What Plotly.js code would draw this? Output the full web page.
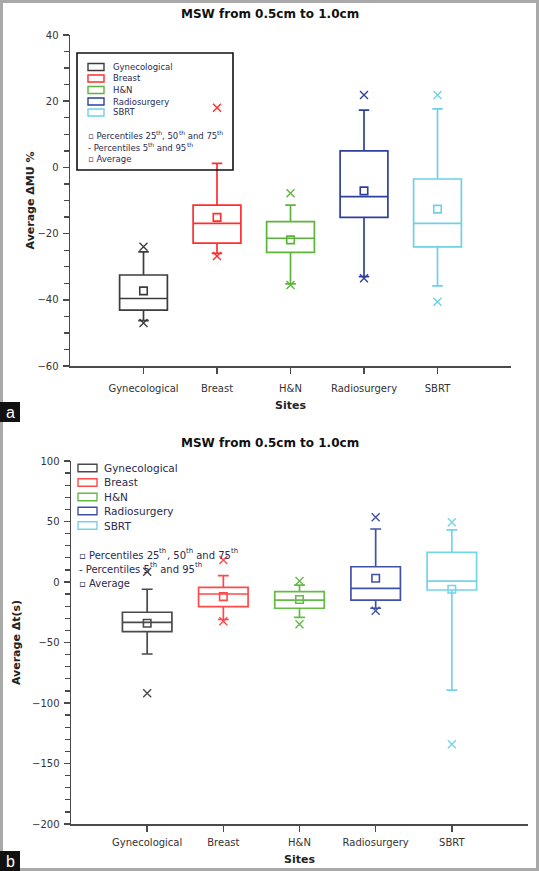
<!DOCTYPE html>
<html><head><meta charset="utf-8">
<script src="https://cdn.plot.ly/plotly-3.0.1.min.js"></script>
<style>html,body{margin:0;padding:0;background:#fff;} #chart{width:539px;height:871px;}</style>
</head><body><div id="chart"></div>
<script>
// ---------- data ----------
const sites = ['Gynecological','Breast','H&N','Radiosurgery','SBRT'];

// Panel a: Average ΔMU %
const muP5     = [-46.3, -26.0, -35.2, -33.0, -35.8];
const muQ1     = [-43.1, -22.9, -25.7, -15.1, -24.0];
const muMedian = [-39.6, -16.9, -21.4,  -8.8, -16.9];
const muQ3     = [-32.5, -11.4, -16.4,   5.0,  -3.5];
const muP95    = [-25.5,   1.2, -11.4,  17.3,  17.7];
const muMean   = [-37.3, -15.1, -21.9,  -7.1, -12.6];
const muMin    = [-47.0, -26.8, -35.5, -33.5, -40.6];
const muMax    = [-24.0,  18.0,  -7.8,  21.9,  21.9];

// Panel b: Average Δt(s)
const tP5      = [-59.5, -31.0, -29.2, -21.7, -89.3];
const tQ1      = [-41.0, -20.4, -21.7, -14.9,  -6.6];
const tMedian  = [-33.3,  -9.9, -14.9,  -5.2,   0.8];
const tQ3      = [-25.0,  -4.4,  -8.0,  12.6,  24.5];
const tP95     = [ -6.0,   5.2,  -2.5,  43.8,  43.0];
const tMean    = [-34.1, -12.1, -14.5,   3.1,  -6.0];
const tMin     = [-92.0, -32.5, -35.0, -23.7, -134.0];
const tMax     = [  8.5,  18.2,   0.8,  53.5,  49.3];

const panelTitle = 'MSW from 0.5cm to 1.0cm';
const panelLabels = ['a', 'b'];
const xTitle = 'Sites';
const yTitleA = 'Average ΔMU %';
const yTitleB = 'Average Δt(s)';
// legend notes as [segment, isSuperscript]
const legendNotes = [
  [['▫ Percentiles 25', 0], ['th', 1], [',\u00a050', 0], ['th', 1], ['\u00a0and 75', 0], ['th', 1]],
  [['- Percentiles 5', 0], ['th', 1], ['\u00a0and 95', 0], ['th', 1]],
  [['▫ Average', 0]]
];

// ---------- styles ----------
const colA = ['#3c3c3c','#ff2e2e','#5cb53a','#2f409c','#6fd0e6'];
const colB = ['#4a4a4a','#ff4a4a','#62bb44','#4152a6','#74d4ea'];
const FONT = "'DejaVu Sans', sans-serif";
const W = 539, H = 871;
const fx = p => p / W;
const fy = p => 1 - p / H;
const ctx = document.createElement('canvas').getContext('2d');
function textWidth(t, size) { ctx.font = size + "px 'DejaVu Sans'"; return ctx.measureText(t).width; }

const traces = [];
function addPanel(xa, ya, cols, P5, Q1, MED, Q3, P95, MEAN, MIN, MAX) {
  sites.forEach((s, i) => {
    traces.push({
      type: 'box', orientation: 'v', xaxis: xa, yaxis: ya,
      x: [s], q1: [Q1[i]], median: [MED[i]], q3: [Q3[i]],
      lowerfence: [P5[i]], upperfence: [P95[i]],
      boxpoints: false, width: 0.65, whiskerwidth: 0.22,
      line: {color: cols[i], width: 1.7}, fillcolor: 'rgba(0,0,0,0)',
      showlegend: false, hoverinfo: 'skip'
    });
  });
  traces.push({
    type: 'scatter', mode: 'markers', xaxis: xa, yaxis: ya,
    x: sites, y: MEAN, showlegend: false, hoverinfo: 'skip',
    marker: {symbol: 'square-open', size: 7.5, color: cols, line: {width: 1.6}}
  });
  traces.push({
    type: 'scatter', mode: 'markers', xaxis: xa, yaxis: ya,
    x: sites.concat(sites), y: MIN.concat(MAX), showlegend: false, hoverinfo: 'skip',
    marker: {symbol: 'x-thin-open', size: 8, color: cols.concat(cols), line: {width: 1.4}}
  });
}
addPanel('x', 'y', colA, muP5, muQ1, muMedian, muQ3, muP95, muMean, muMin, muMax);
addPanel('x2', 'y2', colB, tP5, tQ1, tMedian, tQ3, tP95, tMean, tMin, tMax);

const axCol = '#4a4a4a';
function xMain(dom, anchor, lblStand, ttlStand) {
  return {
    domain: dom, anchor: anchor, type: 'category', categoryorder: 'array', categoryarray: sites,
    range: [-1, 5], showline: true, linecolor: axCol, linewidth: 1.5,
    ticks: 'outside', ticklen: 6, tickwidth: 1.5, tickcolor: axCol,
    tickfont: {family: FONT, size: 10, color: '#333'}, ticklabelstandoff: lblStand,
    showgrid: false, zeroline: false, fixedrange: true,
    title: {text: '<b>' + xTitle + '</b>', font: {family: FONT, size: 11, color: '#222'}, standoff: ttlStand}
  };
}
function xTop(over, anchor, lc) {
  return {overlaying: over, anchor: anchor, side: 'top', type: 'linear', range: [-1, 5],
    tickvals: [0,1,2,3,4], ticks: 'inside', ticklen: 6, tickwidth: 1.5, tickcolor: axCol,
    showticklabels: false, showline: true, linecolor: lc, linewidth: 1.5,
    showgrid: false, zeroline: false, fixedrange: true};
}
function yRight(over, anchor, rng, dt) {
  return {overlaying: over, anchor: anchor, side: 'right', range: rng, dtick: dt, tick0: 0,
    ticks: 'inside', ticklen: 6, tickwidth: 1.5, tickcolor: axCol,
    showticklabels: false, showline: true, linecolor: axCol, linewidth: 1.5,
    showgrid: false, zeroline: false, fixedrange: true};
}
function yMain(dom, anchor, rng, dt, mdt, title, stand) {
  return {
    domain: dom, anchor: anchor, range: rng, dtick: dt, tick0: 0,
    showline: true, linecolor: axCol, linewidth: 1.5,
    ticks: 'outside', ticklen: 6, tickwidth: 1.5, tickcolor: axCol,
    minor: {dtick: mdt, tick0: 0, ticks: 'outside', ticklen: 5, tickwidth: 1.3, tickcolor: axCol, showgrid: false},
    tickfont: {family: FONT, size: 10, color: '#333'}, ticklabelstandoff: 2,
    showgrid: false, zeroline: false, fixedrange: true,
    title: {text: '<b>' + title + '</b>', font: {family: FONT, size: 11, color: '#222'}, standoff: stand}
  };
}

const shapes = [];
const annotations = [];
function note(x, y, text, size, color, anchor, fam) {
  annotations.push({xref: 'paper', yref: 'paper', x: fx(x), y: fy(y), text: text, showarrow: false,
    xanchor: anchor, yanchor: 'middle', align: anchor === 'left' ? 'left' : 'center', borderpad: 0,
    font: {family: fam || FONT, size: size, color: color}});
}
function richNote(x, y, parts, size, color) {
  let cx = x;
  parts.forEach(([t, sup]) => {
    const s = sup ? Math.round(size * 0.7 * 2) / 2 : size;
    note(cx, sup ? y - size * 0.38 : y, t, s, color, 'left');
    cx += textWidth(t, s);
  });
}
// outer frame
shapes.push({type: 'rect', xref: 'paper', yref: 'paper', x0: fx(1.5), x1: fx(537.5), y0: fy(869.5), y1: fy(1.5),
  line: {color: '#a9a9a9', width: 3}, fillcolor: 'rgba(0,0,0,0)', layer: 'below'});
// panel labels
[402, 851].forEach((top, k) => {
  shapes.push({type: 'rect', xref: 'paper', yref: 'paper', x0: 0, x1: fx(20), y0: fy(top + 20), y1: fy(top),
    line: {width: 0}, fillcolor: '#111'});
  note(10, top + 10, panelLabels[k], 16, '#fff', 'center', 'Liberation Sans, Arial, sans-serif');
});
// panel titles
[14, 443].forEach(yy => note(269.5, yy, '<b>' + panelTitle + '</b>', 12, '#111', 'center'));

// legend a (boxed)
shapes.push({type: 'rect', xref: 'paper', yref: 'paper', x0: fx(77), x1: fx(233), y0: fy(170), y1: fy(53),
  line: {color: '#111', width: 1.6}, fillcolor: 'rgba(0,0,0,0)'});
const legA = [67, 78.5, 90, 101.5, 112.5];
sites.forEach((s, i) => {
  shapes.push({type: 'rect', xref: 'paper', yref: 'paper', x0: fx(88), x1: fx(104), y0: fy(legA[i] + 3.5), y1: fy(legA[i] - 3.5),
    line: {color: colA[i], width: 1.4}, fillcolor: 'rgba(0,0,0,0)'});
  note(112, legA[i], s, 8.5, '#2a2a50', 'left');
});
[136, 147.5, 159].forEach((yy, k) => richNote(87, yy, legendNotes[k], 8.5, '#2a2a50'));

// legend b (no border)
const legB = [468, 482.5, 497, 511, 525.5];
sites.forEach((s, i) => {
  shapes.push({type: 'rect', xref: 'paper', yref: 'paper', x0: fx(78), x1: fx(97), y0: fy(legB[i] + 3.8), y1: fy(legB[i] - 3.8),
    line: {color: colB[i], width: 1.4}, fillcolor: 'rgba(0,0,0,0)'});
  note(103, legB[i], s, 10.5, '#2a2a50', 'left');
});
[555, 569, 583].forEach((yy, k) => richNote(78, yy, legendNotes[k], 10, '#2a2a50'));

const layout = {
  width: W, height: H, margin: {l: 0, r: 0, t: 0, b: 0},
  paper_bgcolor: '#fff', plot_bgcolor: '#fff', showlegend: false, boxmode: 'overlay',
  font: {family: FONT, color: '#333', size: 10},
  xaxis: xMain([fx(70), fx(511)], 'y', 6, 9),
  yaxis: yMain([fy(366), fy(35)], 'x', [-60, 40], 20, 5, yTitleA, 0),
  xaxis3: xTop('x', 'y', axCol),
  yaxis3: yRight('y', 'x', [-60, 40], 20),
  xaxis2: xMain([fx(71), fx(528)], 'y2', 2, 9),
  yaxis2: yMain([fy(824), fy(461)], 'x2', [-200, 100], 50, 10, yTitleB, 9),
  xaxis4: xTop('x2', 'y2', '#8a8a8a'),
  yaxis4: yRight('y2', 'x2', [-200, 100], 50),
  shapes: shapes, annotations: annotations
};

Plotly.newPlot('chart', traces, layout, {displayModeBar: false, staticPlot: true});
</script></body></html>
